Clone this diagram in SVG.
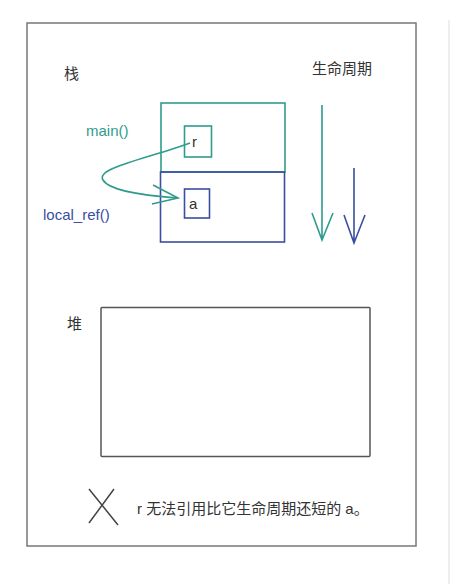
<svg xmlns="http://www.w3.org/2000/svg" width="453" height="584" viewBox="0 0 453 584">
<style>
.t{font-family:"Liberation Sans","Noto Sans CJK SC",sans-serif;fill:#333;font-size:15px}
.teal{stroke:#2f9c8c;fill:none;stroke-width:1.6}
.blue{stroke:#3a4fa0;fill:none;stroke-width:1.6}
.gray{stroke:#555;fill:none;stroke-width:1.5}
</style>
<rect width="453" height="584" fill="#fff"/>
<line x1="449" y1="20" x2="449" y2="584" stroke="#ddd" stroke-width="1"/>
<rect x="27" y="23" width="389" height="523" fill="#fff" stroke="#777" stroke-width="1.5"/>
<g id="stack-label"><text class="t" x="64" y="79">栈</text></g>
<g id="lifecycle-label"><text class="t" x="312" y="74">生命周期</text></g>
<g id="main-frame">
<rect class="teal" x="161" y="103" width="124" height="69"/>
<text class="t" x="86" y="136" style="fill:#2f9c8c">main()</text>
</g>
<g id="local-ref-frame">
<rect class="blue" x="160.5" y="172" width="124" height="70"/>
<text class="t" x="43" y="220" style="fill:#3a4fa0">local_ref()</text>
</g>
<g id="r">
<rect class="teal" x="184.5" y="126" width="27" height="31"/>
<text class="t" x="192" y="147">r</text>
</g>
<g id="a">
<rect class="blue" x="184.5" y="189" width="25" height="29"/>
<text class="t" x="189" y="209">a</text>
</g>
<g id="heap-label"><text class="t" x="67" y="329">堆</text></g>
<g id="heap"><rect class="gray" x="101" y="307.5" width="269" height="149" rx="1"/></g>
<g id="connectors">
<path class="teal" d="M190 143 C150 158 95 168 103 180 C110 192 150 196 178 198"/>
<path class="teal" d="M153 185 L178 198 L152 204"/>
<path class="teal" d="M322 105 L322 240 M312 213 L322 240 L333 213"/>
<path class="blue" d="M354 168 L354 243 M344 215 L354 243 L365 215"/>
</g>
<g id="note">
<path d="M89 489 L118 525 M114 489 L89 523" stroke="#444" stroke-width="1.5" fill="none"/>
<text class="t" x="137" y="514">r 无法引用比它生命周期还短的 a。</text>
</g>
</svg>
